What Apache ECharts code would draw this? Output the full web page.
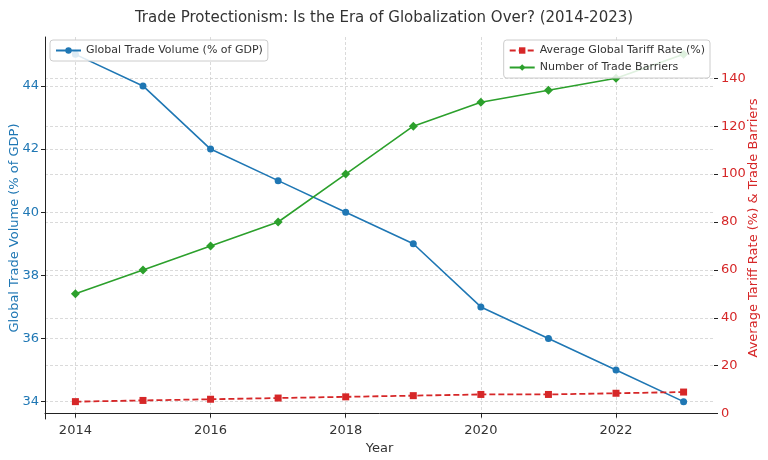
<!DOCTYPE html>
<html><head><meta charset="utf-8">
<script src="https://cdn.jsdelivr.net/npm/echarts@6/dist/echarts.min.js"></script>
<style>html,body{margin:0;padding:0;background:#fff}#c{width:768px;height:460px}</style>
</head><body><div id="c"></div>
<script>
const years = [2014, 2015, 2016, 2017, 2018, 2019, 2020, 2021, 2022, 2023];
const tradeVolume = [45, 44, 42, 41, 40, 39, 37, 36, 35, 34];
const tariffRate = [5, 5.5, 6, 6.5, 7, 7.5, 8, 8, 8.5, 9];
const tradeBarriers = [50, 60, 70, 80, 100, 120, 130, 135, 140, 150];
const xTicks = [2014, 2016, 2018, 2020, 2022];
const leftTicks = [34, 36, 38, 40, 42, 44];
const rightTicks = [0, 20, 40, 60, 80, 100, 120, 140];

const FONT = 'DejaVu Sans';
const pair = (a) => years.map((y, i) => [y, a[i]]);
const gridLine = {show: true, lineStyle: {color: '#d0d0d0', type: [3, 2], width: 0.8}};

const chart = echarts.init(document.getElementById('c'), null, {renderer: 'canvas'});
chart.setOption({
  animation: false,
  textStyle: {fontFamily: FONT},
  title: {text: 'Trade Protectionism: Is the Era of Globalization Over? (2014-2023)', left: 'center', top: 6,
    textStyle: {fontFamily: FONT, fontSize: 15, fontWeight: 'normal', color: '#333'}},
  grid: {left: 45, right: 54, top: 37, bottom: 41, containLabel: false, outerBoundsMode: 'none'},
  legend: [
    {data: ['Global Trade Volume (% of GDP)'], left: 50, top: 40, orient: 'vertical',
     backgroundColor: 'rgba(255,255,255,0.85)', borderColor: '#ccc', borderWidth: 1, borderRadius: 3,
     padding: [5, 5], itemWidth: 25, itemHeight: 8, itemGap: 6, textStyle: {fontFamily: FONT, fontSize: 11, color: '#333'}},
    {data: ['Average Global Tariff Rate (%)', 'Number of Trade Barriers'], right: 58, top: 40, orient: 'vertical',
     backgroundColor: 'rgba(255,255,255,0.85)', borderColor: '#ccc', borderWidth: 1, borderRadius: 3,
     padding: [5, 5], itemGap: 6, itemWidth: 25, itemHeight: 8, textStyle: {fontFamily: FONT, fontSize: 11, color: '#333'}}
  ],
  xAxis: {type: 'value', min: 2013.55, max: 2023.45, name: 'Year', nameLocation: 'middle', nameGap: 23,
    nameMoveOverlap: false,
    nameTextStyle: {fontFamily: FONT, fontSize: 13, color: '#333'},
    axisLine: {show: true, lineStyle: {color: '#222', width: 1}},
    axisTick: {show: true, length: 4, lineStyle: {color: '#222'}, customValues: xTicks},
    axisLabel: {fontFamily: FONT, fontSize: 13, color: '#333', customValues: xTicks, formatter: v => String(v), margin: 5},
    splitLine: gridLine},
  yAxis: [
    {type: 'value', position: 'left', min: 33.45, max: 45.55, name: 'Global Trade Volume (% of GDP)',
     nameLocation: 'middle', nameGap: 24, nameMoveOverlap: false,
     nameTextStyle: {fontFamily: FONT, fontSize: 13, color: '#1f77b4'},
     axisLine: {show: true, lineStyle: {color: '#222', width: 1}},
     axisTick: {show: true, length: 4, lineStyle: {color: '#222'}, customValues: leftTicks},
     axisLabel: {fontFamily: FONT, fontSize: 13, color: '#1f77b4', customValues: leftTicks, margin: 6},
     splitLine: gridLine},
    {type: 'value', position: 'right', min: -2.25, max: 157.25, name: 'Average Tariff Rate (%) & Trade Barriers',
     nameLocation: 'middle', nameGap: 33, nameMoveOverlap: false,
     nameTextStyle: {fontFamily: FONT, fontSize: 13, color: '#d62728'},
     axisLine: {show: false},
     axisTick: {show: true, length: 4, lineStyle: {color: '#222'}, customValues: rightTicks},
     axisLabel: {fontFamily: FONT, fontSize: 13, color: '#d62728', customValues: rightTicks, margin: 7},
     splitLine: gridLine}
  ],
  series: [
    {name: 'Global Trade Volume (% of GDP)', type: 'line', yAxisIndex: 0, data: pair(tradeVolume),
     symbol: 'circle', symbolSize: 7, color: '#1f77b4', lineStyle: {width: 1.6}, z: 2},
    {name: 'Average Global Tariff Rate (%)', type: 'line', yAxisIndex: 1, data: pair(tariffRate),
     symbol: 'rect', symbolSize: 7, color: '#d62728', lineStyle: {width: 1.8, type: [6, 3]}, z: 3},
    {name: 'Number of Trade Barriers', type: 'line', yAxisIndex: 1, data: pair(tradeBarriers),
     symbol: 'diamond', symbolSize: 9, color: '#2ca02c', lineStyle: {width: 1.6}, z: 3}
  ]
});
</script></body></html>
